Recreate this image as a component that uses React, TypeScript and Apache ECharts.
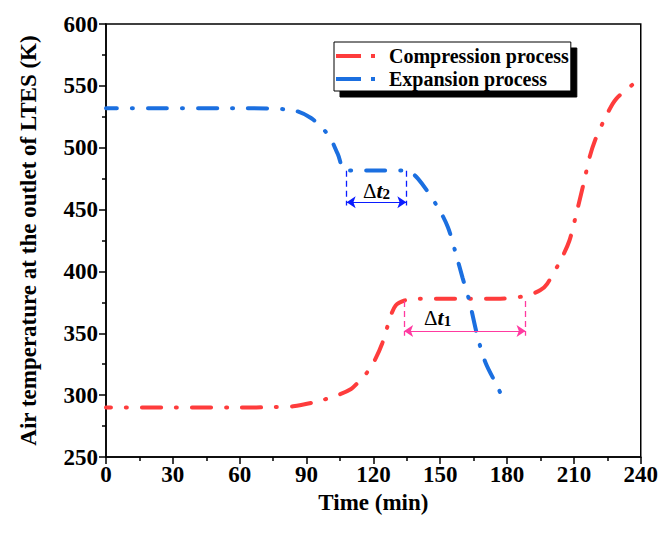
import React, { useEffect, useRef } from "react";
import * as echarts from "echarts";

const xTicks = [0, 30, 60, 90, 120, 150, 180, 210, 240];
const yTicks = [250, 300, 350, 400, 450, 500, 550, 600];

const compressionName = "Compression process";
const expansionName = "Expansion process";

const compressionData: [number, number][] = [
  [0, 290], [30, 290], [60, 290], [75, 290.3], [84, 291], [95, 295], [104, 300],
  [110, 305], [113, 310], [117, 318], [120, 326], [124, 342], [127.6, 363],
  [130, 372.5], [134, 376.5], [140, 378], [160, 378], [177, 378], [189, 380.5],
  [195, 385], [198, 390], [204, 409], [208, 425], [211.4, 449], [214.6, 473],
  [217, 492], [219.5, 506], [223.5, 522], [229, 539.5], [240, 556],
];

const expansionData: [number, number][] = [
  [0, 532], [60, 532], [83, 530.6], [92, 524], [100, 509.7], [104, 495],
  [107.5, 481.5], [120, 481.5], [134.7, 481.5], [140, 475], [149, 451.6],
  [153.5, 435.5], [157, 414.5], [160, 395], [163, 376.6], [166.8, 347],
  [170.4, 326], [175.8, 306.5], [178, 297.6],
];

// Δt1 (compression plateau): start, end, arrow level, top, bottom
const dt1 = [133.8, 188.3, 351.8, 376, 348];
// Δt2 (expansion plateau): start, end, arrow level, top, bottom
const dt2 = [108, 134.8, 456, 481.4, 453.2];

const FONT = "Liberation Serif";
const RED = "#fe3c3c";
const BLUE = "#1b6fe0";
const PINK = "#ff3aa0";
const MARK_BLUE = "#0a1cff";

const dashDot = [19, 15, 1, 15];

function deltaMarks(d: number[], color: string, sub: string, labelPos: string, labelDist: any) {
  const [s, e, lvl, top, bot] = d;
  const vStyle = { color, width: 1.3, type: [6, 4] as any };
  return [
    [
      { coord: [s, top], lineStyle: vStyle, symbol: "none", label: { show: false } },
      { coord: [s, bot], symbol: "none" },
    ],
    [
      { coord: [e, top], lineStyle: vStyle, symbol: "none", label: { show: false } },
      { coord: [e, bot], symbol: "none" },
    ],
    [
      {
        coord: [s, lvl],
        lineStyle: { color, width: 1.2, type: "solid" },
        label: {
          show: true,
          position: labelPos,
          distance: labelDist,
          formatter: `{d|Δ}{t|t}{s|${sub}}`,
          rich: {
            d: { fontFamily: FONT, fontSize: 21, fontWeight: "normal", color: "#000", lineHeight: 24, verticalAlign: "bottom" },
            t: { fontFamily: FONT, fontSize: 22, fontStyle: "italic", fontWeight: "bold", color: "#000", lineHeight: 24, verticalAlign: "bottom" },
            s: { fontFamily: FONT, fontSize: 15, fontWeight: "bold", color: "#000", lineHeight: 15, verticalAlign: "bottom" },
          },
        },
      },
      { coord: [e, lvl] },
    ],
  ];
}

export default function App() {
  const ref = useRef<HTMLDivElement>(null);
  useEffect(() => {
    if (!ref.current) return;
    const chart = echarts.init(ref.current, undefined, { renderer: "svg" });
    const axisFont = { fontFamily: FONT, fontWeight: "bold" as const, fontSize: 23, color: "#000" };
    chart.setOption({
      animation: false,
      backgroundColor: "#fff",
      textStyle: { fontFamily: FONT, fontWeight: "bold", color: "#000" },
      grid: {
        left: 106, right: 18, top: 24, bottom: 77,
        show: true, borderColor: "#000", borderWidth: 1.5, backgroundColor: "transparent",
      },
      legend: {
        left: 334, top: 42, orient: "vertical",
        data: [compressionName, expansionName],
        icon: "path://M0,0H25V4H0Z M35,0H39V4H35Z",
        itemWidth: 39, itemHeight: 4, itemGap: 3,
        padding: [4, 2, 2, 2],
        backgroundColor: "#fff",
        borderColor: "#000", borderWidth: 1,
        shadowColor: "#000", shadowBlur: 0, shadowOffsetX: 6, shadowOffsetY: 6,
        formatter: (n: string) => `{a|${n}}`,
        textStyle: {
          rich: { a: { fontFamily: FONT, fontWeight: "bold", fontSize: 20, color: "#000", lineHeight: 22, padding: [0, 0, 0, 9] } },
        },
      },
      xAxis: {
        type: "value", min: xTicks[0], max: xTicks[xTicks.length - 1], interval: 30,
        name: "Time (min)", nameLocation: "middle", nameGap: 24,
        nameTextStyle: { ...axisFont },
        axisLine: { show: true, onZero: false, lineStyle: { color: "#000", width: 1.5 } },
        axisTick: { show: true, inside: false, length: 7, lineStyle: { color: "#000", width: 1.5 } },
        minorTick: { show: true, splitNumber: 2, length: 4, lineStyle: { color: "#000", width: 1.5 } },
        axisLabel: { ...axisFont, margin: 6 },
        splitLine: { show: false },
      },
      yAxis: {
        type: "value", min: yTicks[0], max: yTicks[yTicks.length - 1], interval: 50,
        name: "Air temperature at the outlet of LTES (K)", nameLocation: "middle", nameGap: 66,
        nameTextStyle: { ...axisFont },
        axisLine: { show: true, onZero: false, lineStyle: { color: "#000", width: 1.5 } },
        axisTick: { show: true, inside: false, length: 7, lineStyle: { color: "#000", width: 1.5 } },
        minorTick: { show: true, splitNumber: 2, length: 4, lineStyle: { color: "#000", width: 1.5 } },
        axisLabel: { ...axisFont, margin: 8 },
        splitLine: { show: false },
      },
      series: [
        {
          name: compressionName, type: "line", data: compressionData, smooth: 0.3,
          symbol: "none", color: RED,
          lineStyle: { color: RED, width: 4, type: dashDot, cap: "round", dashOffset: 14 },
          markLine: {
            silent: true, symbol: ["arrow", "arrow"], symbolSize: 9,
            data: deltaMarks(dt1, PINK, "1", "insideStartTop", [20, 3]),
          },
        },
        {
          name: expansionName, type: "line", data: expansionData, smooth: 0.3,
          symbol: "none", color: BLUE,
          lineStyle: { color: BLUE, width: 4, type: dashDot, cap: "round", dashOffset: 8 },
          markLine: {
            silent: true, symbol: ["arrow", "arrow"], symbolSize: 9,
            data: deltaMarks(dt2, MARK_BLUE, "2", "insideMiddleTop", 1),
          },
        },
      ],
    });
    return () => chart.dispose();
  }, []);
  return <div ref={ref} style={{ position: "absolute", left: 0, top: 0, width: 661, height: 534 }} />;
}
